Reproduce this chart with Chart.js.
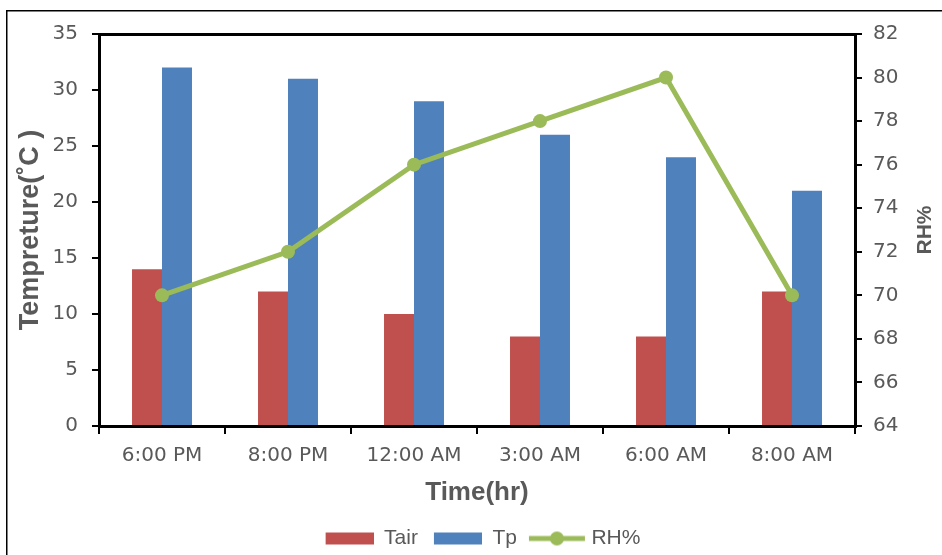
<!DOCTYPE html>
<html>
<head>
<meta charset="utf-8">
<script src="https://cdn.jsdelivr.net/npm/chart.js@4.4.1/dist/chart.umd.min.js"></script>
<style>
  html, body { margin: 0; padding: 0; background: #fff; }
  canvas { display: block; }
</style>
</head>
<body>
<canvas id="chart" width="942" height="555"></canvas>
<script>
// data
const timeLabels = ["6:00 PM", "8:00 PM", "12:00 AM", "3:00 AM", "6:00 AM", "8:00 AM"];
const tairValues = [14, 12, 10, 8, 8, 12];
const tpValues = [32, 31, 29, 26, 24, 21];
const rhValues = [70, 72, 76, 78, 80, 70];

const tempRange = [0, 35, 5];
const rhRange = [64, 82, 2];

const xTitle = "Time(hr)";
const yTitle = "Tempreture(˚C )";
const y1Title = "RH%";

const RED = "#C0504D";
const BLUE = "#4F81BD";
const GREEN = "#9BBB59";
const TEXT = "#595959";

const tickFont = { family: "'DejaVu Sans', sans-serif", size: 20 };
const titleFont = { family: "'Liberation Sans', Arial, sans-serif", size: 26, weight: "bold" };

// legend icons: excel style bar swatch and line-with-marker
function makeIcon(color, kind) {
    const c = document.createElement("canvas");
    const g = c.getContext("2d");
    if (kind === "bar") {
        c.width = 60; c.height = 16;
        g.fillStyle = color;
        g.fillRect(12, 2, 48, 12);
    } else {
        // wider than the legend slot, so the line reaches nearer the text
        c.width = 76; c.height = 16;
        g.strokeStyle = color;
        g.lineWidth = 5;
        g.beginPath(); g.moveTo(16, 8); g.lineTo(72, 8); g.stroke();
        g.fillStyle = color;
        g.beginPath(); g.arc(44, 8, 7, 0, Math.PI * 2); g.fill();
    }
    return c;
}

const framePlugin = {
    id: "frame",
    beforeDraw(chart) {
        const ctx = chart.ctx;
        ctx.save();
        ctx.fillStyle = "#fff";
        ctx.fillRect(0, 0, chart.width, chart.height);
        ctx.strokeStyle = "#000";
        ctx.lineWidth = 1.5;
        ctx.beginPath();
        ctx.moveTo(6.75, chart.height);
        ctx.lineTo(6.75, 10.75);
        ctx.lineTo(chart.width, 10.75);
        ctx.stroke();
        ctx.restore();
    },
    afterDatasetsDraw(chart) {
        const { ctx, chartArea: a } = chart;
        ctx.save();
        ctx.strokeStyle = "#000";
        ctx.lineWidth = 3;
        ctx.strokeRect(a.left + 0.5, a.top + 0.5, a.right - a.left, a.bottom - a.top);
        ctx.restore();
    },
    afterDraw(chart) {
        const ctx = chart.ctx;
        const a = chart.chartArea;
        ctx.save();
        ctx.translate(925, (a.top + a.bottom) / 2);
        ctx.rotate(-Math.PI / 2);
        ctx.font = "bold 21px 'Liberation Sans', Arial, sans-serif";
        ctx.fillStyle = TEXT;
        ctx.textAlign = "center";
        ctx.textBaseline = "middle";
        ctx.fillText(y1Title, 0, 0);
        ctx.restore();
    }
};

const icons = [makeIcon(RED, "bar"), makeIcon(BLUE, "bar"), makeIcon(GREEN, "line")];

new Chart(document.getElementById("chart").getContext("2d"), {
    type: "bar",
    data: {
        labels: timeLabels,
        datasets: [
            { label: "Tair", data: tairValues, backgroundColor: RED, yAxisID: "y", order: 1,
              categoryPercentage: 0.476, barPercentage: 1 },
            { label: "Tp", data: tpValues, backgroundColor: BLUE, yAxisID: "y", order: 1,
              categoryPercentage: 0.476, barPercentage: 1 },
            { label: "RH%", type: "line", data: rhValues, yAxisID: "y1", order: 0,
              borderColor: GREEN, backgroundColor: GREEN, borderWidth: 5,
              pointRadius: 7, pointBackgroundColor: GREEN, pointBorderWidth: 0, tension: 0 }
        ]
    },
    options: {
        responsive: false,
        animation: false,
        layout: { padding: { top: 34, left: 0, right: 0, bottom: -4 } },
        plugins: {
            tooltip: { enabled: false },
            legend: {
                position: "bottom",
                fullSize: false,
                labels: {
                    usePointStyle: true,
                    pointStyleWidth: 60,
                    boxHeight: 16,
                    padding: 4,
                    color: TEXT,
                    font: { family: "'Liberation Sans', Arial, sans-serif", size: 21 },
                    generateLabels: (chart) => chart.data.datasets.map((ds, i) => ({
                        text: ds.label,
                        pointStyle: icons[i],
                        fillStyle: "transparent",
                        strokeStyle: "transparent",
                        lineWidth: 0,
                        fontColor: TEXT,
                        hidden: false,
                        datasetIndex: i
                    }))
                }
            }
        },
        scales: {
            x: {
                offset: true,
                grid: { offset: true, drawOnChartArea: false, drawTicks: true, tickLength: 8,
                        color: "#000", lineWidth: 2 },
                border: { display: false },
                ticks: { color: TEXT, font: tickFont, padding: 10, maxRotation: 0 },
                title: { display: true, text: xTitle, color: TEXT, font: titleFont,
                         padding: { top: 0, bottom: 16 } },
                afterFit: (s) => { s.height = 98; }
            },
            y: {
                position: "left",
                min: tempRange[0], max: tempRange[1],
                ticks: { stepSize: tempRange[2], color: TEXT, font: tickFont, padding: 14 },
                grid: { drawOnChartArea: false, drawTicks: true, tickLength: 7,
                        color: "#000", lineWidth: 2 },
                border: { display: false },
                title: { display: true, text: yTitle, color: TEXT,
                         font: { ...titleFont, size: 27 }, padding: { top: 14, bottom: 0 } },
                afterFit: (s) => { s.width = 99; }
            },
            y1: {
                position: "right",
                min: rhRange[0], max: rhRange[1],
                ticks: { stepSize: rhRange[2], color: TEXT, font: tickFont, padding: 11 },
                grid: { drawOnChartArea: false, drawTicks: true, tickLength: 7,
                        color: "#000", lineWidth: 2 },
                border: { display: false },
                afterFit: (s) => { s.width = 87; }
            }
        }
    },
    plugins: [framePlugin]
});
</script>
</body>
</html>
